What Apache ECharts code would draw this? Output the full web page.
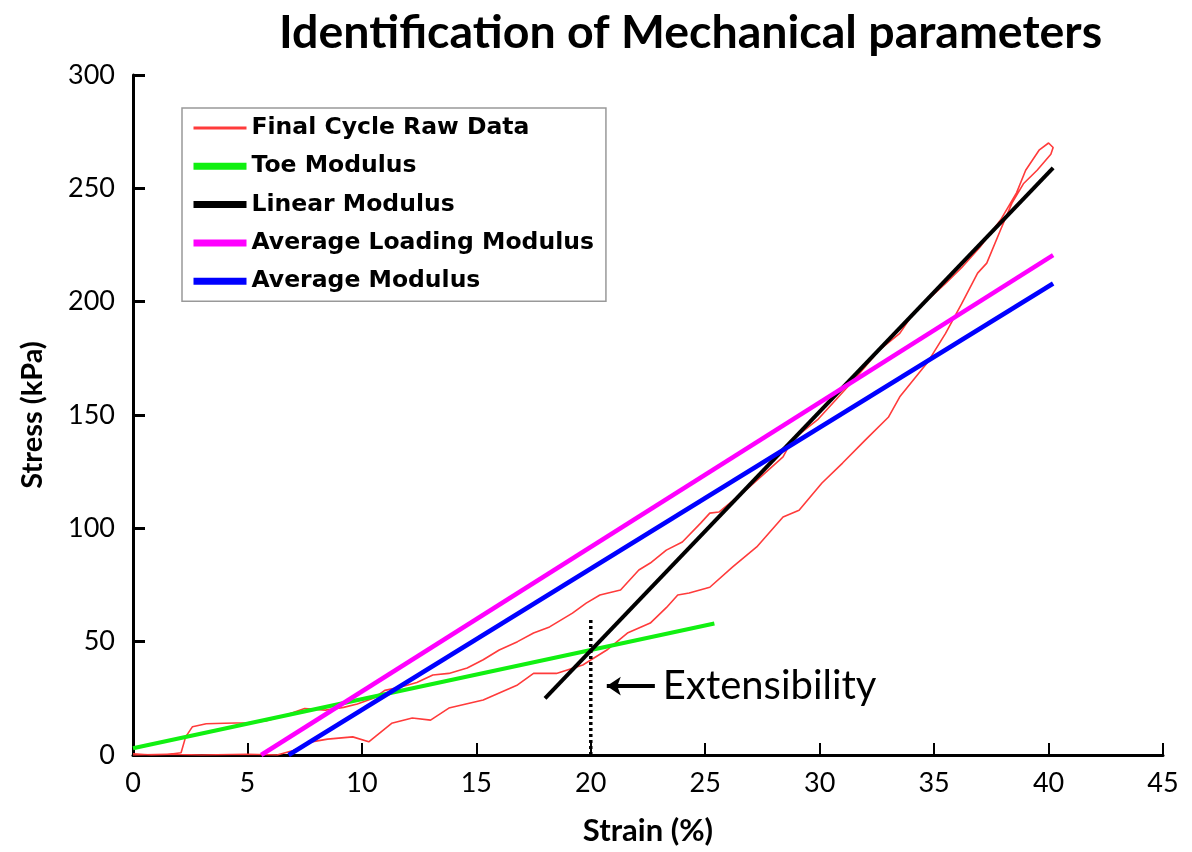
<html>
<head>
    <meta charset="utf-8">
</head>
<body style="margin:0">
    <script src="https://cdn.jsdelivr.net/npm/echarts@6/dist/echarts.min.js"></script>
    <div id="main" style="width: 1192px;height: 852px"></div>
    <script>

// strain (%), stress (kPa)
var rawData = [
    [0, 0.5], [0.8, 0], [1.5, 0.2], [2.1, 1], [2.3, 8], [2.6, 12.5], [3.2, 13.8], [4, 14],
    [5, 14.2], [5.8, 15], [6.5, 17], [7.5, 20.5], [8.4, 19.8], [9.2, 21], [9.8, 22.5],
    [10.5, 25], [11, 28.5], [11.7, 30], [12.4, 32], [13.1, 35.3], [13.8, 36], [14.6, 38.4],
    [15.3, 42], [16, 46.3], [16.8, 50], [17.5, 53.8], [18.2, 56.5], [19.2, 62.6], [19.8, 67],
    [20.4, 70.6], [21.3, 72.8], [22.1, 81.6], [22.6, 84.7], [23.3, 90.4], [24, 94],
    [24.8, 102.3], [25.2, 106.7], [25.6, 107.2], [26.9, 118], [28.4, 131.5], [28.8, 139],
    [29.9, 147.8], [30.7, 156.6], [31.6, 166.7], [32.6, 178.6], [33.5, 186], [34.1, 195],
    [35.5, 208], [36.2, 215], [37, 224], [37.9, 236], [38.6, 248], [39, 258], [39.6, 267],
    [40, 270], [40.2, 268], [40.1, 265], [39.5, 258], [38.9, 252], [38.4, 243.5],
    [37.9, 231.6], [37.3, 217], [36.9, 212.6], [36.2, 199], [35.5, 186], [34.7, 173],
    [33.5, 158], [33, 149], [32, 139], [31, 128.8], [30.1, 120], [29.1, 108], [28.4, 105],
    [27.25, 91.8], [26.2, 83], [25.2, 74], [24.3, 71.5], [23.8, 70.6], [23.3, 65],
    [22.6, 58.2], [21.6, 53.8], [20.7, 46.3], [19.65, 39.7], [18.5, 36], [17.5, 36],
    [16.8, 30.9], [15.3, 24.3], [13.8, 20.7], [13, 15.4], [12.2, 16.3], [11.3, 14],
    [10.3, 5.8], [9.6, 8], [8.5, 7], [7.8, 5.8], [7, 2], [6.3, 0], [5, 0.3], [3, 0], [1.5, 0.3], [0, 0]
];
var toeModulus = [[0, 3], [25.4, 58]];
var linearModulus = [[18, 25], [40.2, 259]];
var avgLoadingModulus = [[5.6, 0], [40.2, 220.5]];
var avgModulus = [[6.8, 0], [40.2, 208]];
var extensibility = [[20, 0], [20, 60]];
var seriesNames = ['Final Cycle Raw Data', 'Toe Modulus', 'Linear Modulus', 'Average Loading Modulus', 'Average Modulus'];
var seriesColors = ['#ff3b3b', '#11f011', '#000000', '#ff00ff', '#0000ff'];
var xTicks = [0, 5, 10, 15, 20, 25, 30, 35, 40, 45];

var myChart = echarts.init(document.getElementById('main'));

function fitLine(name, data, color, width) {
    return {
        name: name,
        type: 'line',
        data: data,
        symbol: 'none',
        color: color,
        lineStyle: { color: color, width: width },
        z: 3
    };
}

option = {
    animation: false,
    backgroundColor: '#fff',
    title: {
        text: 'Identification of Mechanical parameters',
        left: 274,
        top: 4,
        textStyle: { fontFamily: 'Lato', fontWeight: 'bold', fontSize: 46.5, color: '#000' }
    },
    legend: {
        orient: 'vertical',
        left: 182,
        top: 108,
        padding: [7, 12, 7, 8],
        itemGap: 12.3,
        itemWidth: 53,
        itemHeight: 8,
        borderColor: '#999',
        borderWidth: 1.5,
        borderRadius: 0,
        textStyle: { fontFamily: 'DejaVu Sans', fontWeight: 'bold', fontSize: 23.5, color: '#000', lineHeight: 26 },
        data: seriesNames.map(function (n, i) {
            return {
                name: n,
                itemStyle: { opacity: 0 },
                lineStyle: { width: i === 0 ? 3 : 7 }
            };
        })
    },
    grid: { left: 133, right: 29, top: 75, bottom: 97 },
    xAxis: {
        type: 'value',
        min: 0,
        max: 45,
        interval: 5,
        name: 'Strain (%)',
        nameLocation: 'middle',
        nameGap: 60,
        nameTextStyle: { fontFamily: 'Lato', fontWeight: 'bold', fontSize: 31, color: '#000' },
        splitLine: { show: false },
        axisLine: { lineStyle: { color: '#000', width: 3 } },
        axisTick: { inside: true, length: 12, lineStyle: { color: '#000', width: 2 } },
        axisLabel: {
            margin: 15, fontFamily: 'Lato', fontSize: 27, color: '#000',
            formatter: function (v) { return xTicks.indexOf(v) >= 0 ? String(v) : ''; }
        }
    },
    yAxis: {
        type: 'value',
        min: 0,
        max: 300,
        interval: 50,
        name: 'Stress (kPa)',
        nameLocation: 'middle',
        nameGap: 86,
        nameTextStyle: { fontFamily: 'Lato', fontWeight: 'bold', fontSize: 29, color: '#000' },
        splitLine: { show: false },
        axisLine: { show: true, lineStyle: { color: '#000', width: 3 } },
        axisTick: { show: true, inside: true, length: 12, lineStyle: { color: '#000', width: 3 } },
        axisLabel: { margin: 18, fontFamily: 'Lato', fontSize: 27, color: '#000' }
    },
    series: [
        {
            name: seriesNames[0],
            type: 'line',
            data: rawData,
            symbol: 'none',
            color: seriesColors[0],
            lineStyle: { color: seriesColors[0], width: 1.6 },
            z: 2
        },
        fitLine(seriesNames[1], toeModulus, seriesColors[1], 4),
        fitLine(seriesNames[2], linearModulus, seriesColors[2], 4),
        fitLine(seriesNames[3], avgLoadingModulus, seriesColors[3], 4.5),
        fitLine(seriesNames[4], avgModulus, seriesColors[4], 4.5),
        {
            name: 'Extensibility',
            type: 'line',
            data: extensibility,
            symbol: 'none',
            lineStyle: { color: '#000', width: 3.5, type: [3, 3] },
            z: 4,
            markLine: {
                silent: true,
                animation: false,
                lineStyle: { color: '#000', width: 4, type: 'solid' },
                label: {
                    show: true,
                    position: 'start',
                    formatter: 'Extensibility',
                    distance: 8,
                    fontFamily: 'Lato',
                    fontSize: 40,
                    color: '#000'
                },
                data: [[
                    { coord: [22.8, 30.4], symbol: 'none' },
                    { coord: [20.7, 30.4], symbol: 'arrow', symbolSize: [14, 14] }
                ]]
            }
        }
    ]
};

myChart.setOption(option);

</script>
</body>
</html>
